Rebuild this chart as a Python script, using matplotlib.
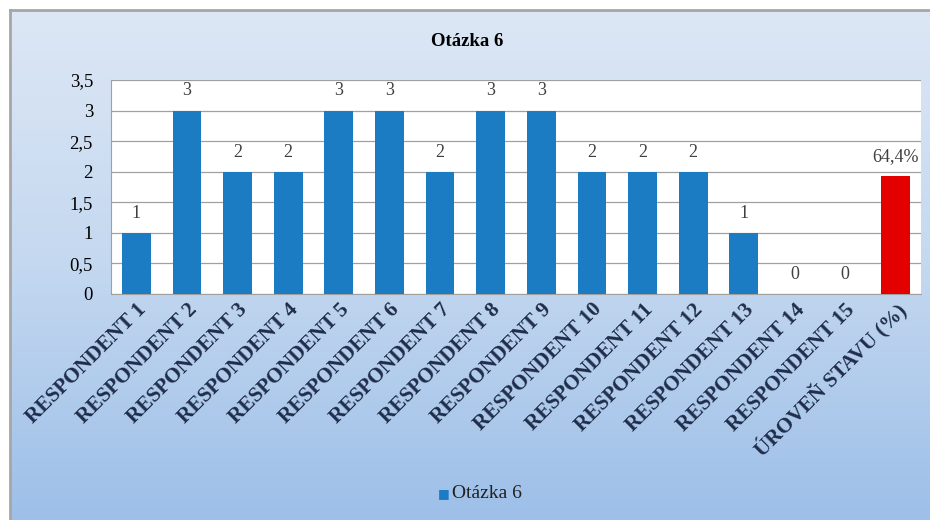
import numpy as np
import matplotlib
matplotlib.use("Agg")
import matplotlib.pyplot as plt
from matplotlib.colors import LinearSegmentedColormap

# data
categories = ["RESPONDENT 1", "RESPONDENT 2", "RESPONDENT 3", "RESPONDENT 4",
              "RESPONDENT 5", "RESPONDENT 6", "RESPONDENT 7", "RESPONDENT 8",
              "RESPONDENT 9", "RESPONDENT 10", "RESPONDENT 11", "RESPONDENT 12",
              "RESPONDENT 13", "RESPONDENT 14", "RESPONDENT 15", "ÚROVEŇ STAVU (%)"]
answers = [1, 3, 2, 2, 3, 3, 2, 3, 3, 2, 2, 2, 1, 0, 0]
level_pct = 64.4
max_score = 3
yticks = [0, 0.5, 1, 1.5, 2, 2.5, 3, 3.5]

values = answers + [level_pct / 100 * max_score]
labels = [str(a) for a in answers] + [f"{level_pct:.1f}".replace(".", ",") + "%"]
colors = ["#1c7cc3"] * len(answers) + ["#e50000"]

plt.rcParams["font.family"] = ["Liberation Serif", "DejaVu Serif"]

W, H = 930, 520
fig = plt.figure(figsize=(W / 100, H / 100), dpi=100)
fig.patch.set_facecolor("white")

# gradient chart background with frame
bg = fig.add_axes([10 / W, 0, (W - 10) / W, (H - 10) / H])
cmap = LinearSegmentedColormap.from_list("bg", ["#dde7f5", "#c4d8f0", "#9dbfe8"])
grad = np.linspace(0, 1, 256).reshape(-1, 1)
bg.imshow(grad, aspect="auto", cmap=cmap, extent=[0, 1, 0, 1], origin="upper")
bg.set_xlim(0, 1)
bg.set_ylim(0, 1)
bg.set_xticks([])
bg.set_yticks([])
for side in ["right", "bottom"]:
    bg.spines[side].set_visible(False)
for side in ["left", "top"]:
    bg.spines[side].set_color("#a6a6a6")
    bg.spines[side].set_linewidth(2)

# plot area
left, right, top, bottom = 111, 921, 80, 294
ax = fig.add_axes([left / W, 1 - bottom / H, (right - left) / W, (bottom - top) / H])
ax.set_facecolor("white")
x = np.arange(len(categories))
bars = ax.bar(x, values, width=0.57, color=colors, zorder=3)
ax.set_xlim(-0.5, len(categories) - 0.5)
ax.set_ylim(0, 3.5)
ax.set_yticks(yticks)
ax.set_yticklabels([f"{t:g}".replace(".", ",") for t in yticks], fontsize=13.5)
ax.yaxis.grid(True, color="#a0a0a0", linewidth=0.9, zorder=0)
ax.tick_params(axis="y", length=0, pad=13)
ax.tick_params(axis="x", length=0, pad=4)
ax.set_xticks(x)
ax.set_xticklabels(categories, rotation=45, ha="right", rotation_mode="anchor",
                   fontsize=15.3, fontweight="bold", color="#1f2d4a")
for side in ["top", "right"]:
    ax.spines[side].set_visible(False)
for side in ["left", "bottom"]:
    ax.spines[side].set_color("#a0a0a0")

for b, lab in zip(bars, labels):
    ax.annotate(lab, (b.get_x() + b.get_width() / 2, b.get_height()),
                xytext=(0, 8), textcoords="offset points", ha="center", va="bottom",
                fontsize=13, color="#404040")

fig.text(467 / W, 1 - 42 / H, "Otázka 6", ha="center", va="center",
         fontsize=13.5, fontweight="bold")

# legend
fig.text(444 / W, 1 - 494 / H, "■", ha="center", va="center", fontsize=9,
         color=colors[0], family=["DejaVu Sans"])
fig.text(452 / W, 1 - 494 / H, "Otázka 6", ha="left", va="center", fontsize=14,
         color="#222222")

fig.savefig("out.png", dpi=100)
